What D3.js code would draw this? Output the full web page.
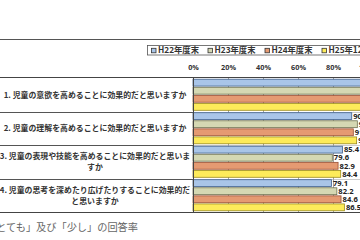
<!DOCTYPE html>
<html><head><meta charset="utf-8">
<script src="https://cdn.jsdelivr.net/npm/d3@7/dist/d3.min.js"></script>
<style>html,body{margin:0;padding:0;background:#fff;overflow:hidden}svg{display:block}</style>
</head><body>
<svg id="c" width="360" height="240"></svg>
<script>
const categories = [
  ["1. 児童の意欲を高めることに効果的だと思いますか"],
  ["2. 児童の理解を高めることに効果的だと思いますか"],
  ["3. 児童の表現や技能を高めることに効果的だと思いま", "すか"],
  ["4. 児童の思考を深めたり広げたりすることに効果的だ", "と思いますか"]
];
const seriesNames = ["H22年度末", "H23年度末", "H24年度末", "H25年12月末"];
const h22 = [96.3, 90.7, 85.4, 79.1];
const h23 = [96.8, 93.9, 79.6, 82.2];
const h24 = [96.5, 91.6, 82.9, 84.6];
const h25 = [97.2, 93.5, 84.4, 86.5];
const tickValues = [0, 20, 40, 60, 80, 100];
const caption = "「とても」及び「少し」の回答率";

const series = [h22, h23, h24, h25];
const fills = ["#a9c5e8", "#d5d8b3", "#e59a72", "#fdeb5a"];
const strokes = ["#3e5f8c", "#6f7150", "#9a4f33", "#9c8c1c"];

const svg = d3.select("#c");
const font = "'Noto Sans CJK JP', 'Noto Sans', sans-serif";
const plotLeft = 193, plotTop = 78, plotBottom = 212;

const x = d3.scaleLinear().domain([0, 100]).range([plotLeft, plotLeft + 175]);
const y = d3.scaleBand().domain(d3.range(categories.length)).range([plotTop, plotBottom]).padding(0);
const ys = d3.scaleBand().domain(d3.range(series.length)).range([0, y.bandwidth()])
  .paddingInner(0.15).paddingOuter(0.15);

// top rule
svg.append("line").attr("x1", 0).attr("x2", 360).attr("y1", 39.5).attr("y2", 39.5)
  .attr("stroke", "#555").attr("stroke-width", 1);

// legend
const lg = svg.append("g");
lg.append("rect").attr("x", 147.5).attr("y", 45.5).attr("width", 230).attr("height", 9.5)
  .attr("fill", "#fff").attr("stroke", "#555").attr("stroke-width", 0.8);
const lx = [151.5, 208, 265, 322];
seriesNames.forEach((n, i) => {
  lg.append("rect").attr("x", lx[i]).attr("y", 48.3).attr("width", 4.5).attr("height", 4.5)
    .attr("fill", fills[i]).attr("stroke", "#333").attr("stroke-width", 0.8);
  lg.append("text").attr("x", lx[i] + 6.5).attr("y", 53.2).text(n)
    .attr("font-family", font).attr("font-size", 8.3).attr("font-weight", "bold").attr("fill", "#333");
});

// axis labels
const ax = svg.append("g").attr("transform", "translate(0,72)")
  .call(d3.axisTop(x).tickValues(tickValues).tickFormat(d => d + "%").tickSize(0).tickPadding(2.5));
ax.select(".domain").remove();
ax.selectAll("text").attr("font-family", "'Open Sans', 'DejaVu Sans', sans-serif")
  .attr("font-size", 7.3).attr("font-weight", "bold").attr("fill", "#333");

// gridlines
svg.append("g").selectAll("line").data(tickValues.slice(1)).join("line")
  .attr("x1", d => Math.round(x(d)) + 0.5).attr("x2", d => Math.round(x(d)) + 0.5)
  .attr("y1", plotTop).attr("y2", plotBottom).attr("stroke", "#888").attr("stroke-width", 0.8);

// row separators
const seps = d3.range(1, categories.length).map(i => y(i));
svg.append("g").selectAll("line").data(seps).join("line")
  .attr("x1", 0).attr("x2", plotLeft).attr("y1", d => Math.round(d) + 0.5).attr("y2", d => Math.round(d) + 0.5)
  .attr("stroke", "#555").attr("stroke-width", 1);
svg.append("g").selectAll("line").data(seps).join("line")
  .attr("x1", plotLeft).attr("x2", 360).attr("y1", d => Math.round(d) + 0.5).attr("y2", d => Math.round(d) + 0.5)
  .attr("stroke", "#aaa").attr("stroke-width", 0.6);

// bars
const bars = [];
categories.forEach((c, ci) => series.forEach((s, si) => bars.push({ ci, si, v: s[ci] })));
svg.append("g").selectAll("rect").data(bars).join("rect")
  .attr("x", x(0))
  .attr("y", d => y(d.ci) + ys(d.si))
  .attr("width", d => x(d.v) - x(0))
  .attr("height", ys.bandwidth())
  .attr("fill", d => fills[d.si]).attr("stroke", d => strokes[d.si]).attr("stroke-width", 0.8);

// value labels
svg.append("g").selectAll("text").data(bars).join("text")
  .attr("x", d => x(d.v) + 1.5)
  .attr("y", d => y(d.ci) + ys(d.si) + ys.bandwidth() / 2)
  .attr("dy", "0.36em")
  .text(d => d.v.toFixed(1))
  .attr("font-family", "'Open Sans', 'DejaVu Sans', sans-serif")
  .attr("font-size", 7.6).attr("font-weight", "bold").attr("fill", "#222");

// frame lines
svg.append("line").attr("x1", 0).attr("x2", 360).attr("y1", plotTop - 0.5).attr("y2", plotTop - 0.5)
  .attr("stroke", "#444").attr("stroke-width", 1);
svg.append("line").attr("x1", 0).attr("x2", 360).attr("y1", plotBottom + 0.5).attr("y2", plotBottom + 0.5)
  .attr("stroke", "#444").attr("stroke-width", 1);
svg.append("line").attr("x1", plotLeft + 0.5).attr("x2", plotLeft + 0.5).attr("y1", plotTop).attr("y2", plotBottom)
  .attr("stroke", "#444").attr("stroke-width", 1);

// category labels
categories.forEach((lines, ci) => {
  const cy = y(ci) + y.bandwidth() / 2;
  const lh = 11;
  lines.forEach((t, li) => {
    svg.append("text").attr("x", 95).attr("y", cy + (li - (lines.length - 1) / 2) * lh)
      .attr("dy", "0.36em").attr("text-anchor", "middle").text(t)
      .attr("font-family", font).attr("font-size", 7.9).attr("font-weight", "bold").attr("fill", "#333");
  });
});

// caption
svg.append("text").attr("x", -14).attr("y", 227).attr("dy", "0.36em").text(caption)
  .attr("font-family", font).attr("font-size", 10.2).attr("fill", "#666");
</script>
</body></html>
